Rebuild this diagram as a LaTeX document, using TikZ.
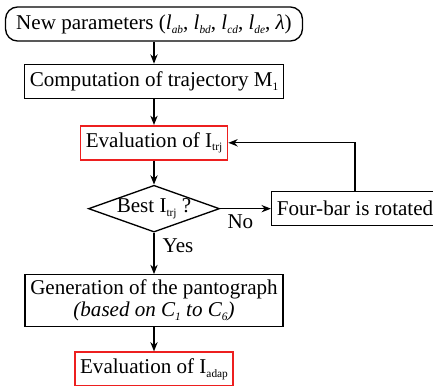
\documentclass[tikz,border=0pt]{standalone}
\usepackage{fontspec}
\setmainfont{Liberation Serif}
\usetikzlibrary{positioning,arrows.meta,shapes.geometric}
\definecolor{evalred}{rgb}{0.93,0.12,0.12}
% small lowered index
\newcommand*\sbs[1]{\raisebox{-0.4ex}{\fontsize{8.5}{9}\selectfont #1}}
\tikzset{
	>={Stealth[length=7pt,width=5.5pt]},
	base/.style={
		draw, line width=1pt,
		font=\fontsize{15.8}{18}\selectfont,
		inner xsep=4pt,
		minimum height=25.5pt,
		align=center},
	stepbox/.style={base, rectangle},
	startbox/.style={base, rectangle, rounded corners=9pt, inner xsep=8pt},
	evalbox/.style={stepbox, draw=evalred, line width=1.2pt},
	decision/.style={base, diamond, aspect=2.8, inner sep=0pt,
		minimum width=96pt, minimum height=34.5pt},
	line/.style={draw, line width=1pt, ->},
	lbl/.style={font=\fontsize{15.8}{18}\selectfont, inner sep=0pt},
}

\begin{document}
\begin{tikzpicture}[node distance=18pt]
\useasboundingbox (0,0) rectangle (324.75pt,-289.5pt);

\node[startbox] (param) at (115.5pt,-18pt)
	{New parameters (\textit{l}\sbs{\textit{ab}}, \textit{l}\sbs{\textit{bd}}, \textit{l}\sbs{\textit{cd}}, \textit{l}\sbs{\textit{de}}, \textit{λ})};
\node[stepbox, below=16.5pt of param] (comp) {Computation of trajectory M\sbs{1}};
\node[evalbox, below=19.5pt of comp] (evtrj) {Evaluation of I\sbs{trj}};
\node[decision, below=of evtrj] (best) {Best I\sbs{trj} ?};
\node[stepbox, right=38pt of best] (rot) {Four-bar is rotated};
\node[stepbox, inner ysep=4pt, below=31pt of best] (gen)
	{Generation of the pantograph\\[-1.5pt] \textit{(based on C\sbs{1} to C\sbs{6})}};
\node[evalbox, below=of gen] (evadap) {Evaluation of I\sbs{adap}};

\draw[line] (param) -- (comp);
\draw[line] (comp) -- (evtrj);
\draw[line] (evtrj) -- (best);
\draw[line] (best) -- (rot) node[lbl, at start, below right=4pt and 5pt] {No};
\draw[line] (best) -- (gen) node[lbl, at start, below right=4pt and 6pt] {Yes};
\draw[line] (rot.north) |- (evtrj.east);
\draw[line] (gen) -- (evadap);
\end{tikzpicture}
\end{document}
